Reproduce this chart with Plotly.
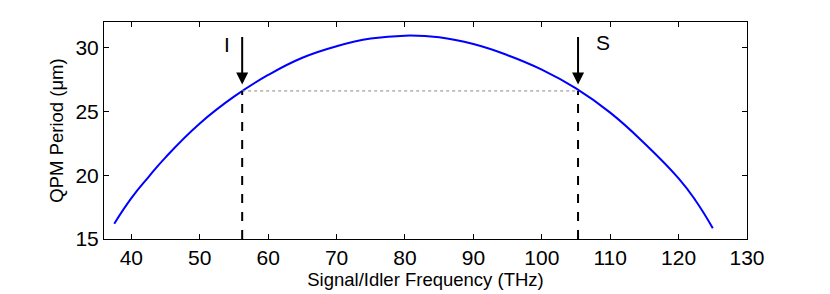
import plotly.graph_objects as go

# Curve data
freq_thz = [37.5, 40, 42.5, 45, 50, 55, 60, 65, 70, 75, 80, 85, 90, 95, 100, 105, 110, 115, 120, 122.5, 125]
qpm_period_um = [16.2, 18.2, 19.85, 21.4, 24.05, 26.15, 27.85, 29.2, 30.1, 30.7, 30.93, 30.8, 30.27, 29.4, 28.27, 26.8, 24.9, 22.5, 19.75, 18.0, 15.85]

# Marked operating point
idler_thz = 56.2
signal_thz = 105.3
period_mark = 26.6
arrow_top = 30.95
arrow_tip = 27.1

x_ticks = [40, 50, 60, 70, 80, 90, 100, 110, 120, 130]
y_ticks = [15, 20, 25, 30]

FONT = "Liberation Sans, Arial, Helvetica, sans-serif"

fig = go.Figure()

fig.add_trace(go.Scatter(
    x=freq_thz, y=qpm_period_um, mode="lines",
    line=dict(color="#0000FF", width=2, shape="spline", smoothing=1.3),
    showlegend=False, hoverinfo="skip"))

# dotted horizontal connector
fig.add_trace(go.Scatter(
    x=[idler_thz, signal_thz], y=[period_mark, period_mark], mode="lines",
    line=dict(color="#888888", width=1, dash="dot"),
    showlegend=False, hoverinfo="skip"))

# dashed verticals
for fx in (idler_thz, signal_thz):
    fig.add_trace(go.Scatter(
        x=[fx, fx], y=[15, period_mark], mode="lines",
        line=dict(color="black", width=2, dash="dash"),
        showlegend=False, hoverinfo="skip"))

# arrows
for fx in (idler_thz, signal_thz):
    fig.add_annotation(x=fx, y=arrow_tip, ax=fx, ay=arrow_top,
                       xref="x", yref="y", axref="x", ayref="y",
                       showarrow=True, arrowhead=2, arrowsize=1.2,
                       arrowwidth=2, arrowcolor="black", standoff=0, text="")

fig.add_annotation(x=54.0, y=30.2, text="I", showarrow=False,
                   font=dict(family=FONT, size=21, color="black"))
fig.add_annotation(x=108.9, y=30.4, text="S", showarrow=False,
                   font=dict(family=FONT, size=21, color="black"))

axis_common = dict(showline=True, linecolor="black", linewidth=1, mirror="ticks",
                   ticks="inside", ticklen=5, tickcolor="black", tickwidth=1,
                   showgrid=False, zeroline=False, automargin=False,
                   tickfont=dict(family=FONT, size=21, color="black"))

fig.update_xaxes(range=[36, 130], tickvals=x_ticks, ticktext=[str(t) for t in x_ticks],
                 title=dict(text="Signal/Idler Frequency (THz)", standoff=0,
                            font=dict(family=FONT, size=18.5, color="black")),
                 **axis_common)
fig.update_yaxes(range=[15, 32], tickvals=y_ticks, ticktext=[str(t) for t in y_ticks],
                 title=dict(text="QPM Period (μm)", standoff=6,
                            font=dict(family=FONT, size=18.5, color="black")),
                 **axis_common)

fig.update_layout(width=830, height=294, margin=dict(l=96, r=91, t=14, b=63),
                  plot_bgcolor="white", paper_bgcolor="white",
                  font=dict(family=FONT, color="black"))

fig.write_html("out.html")
